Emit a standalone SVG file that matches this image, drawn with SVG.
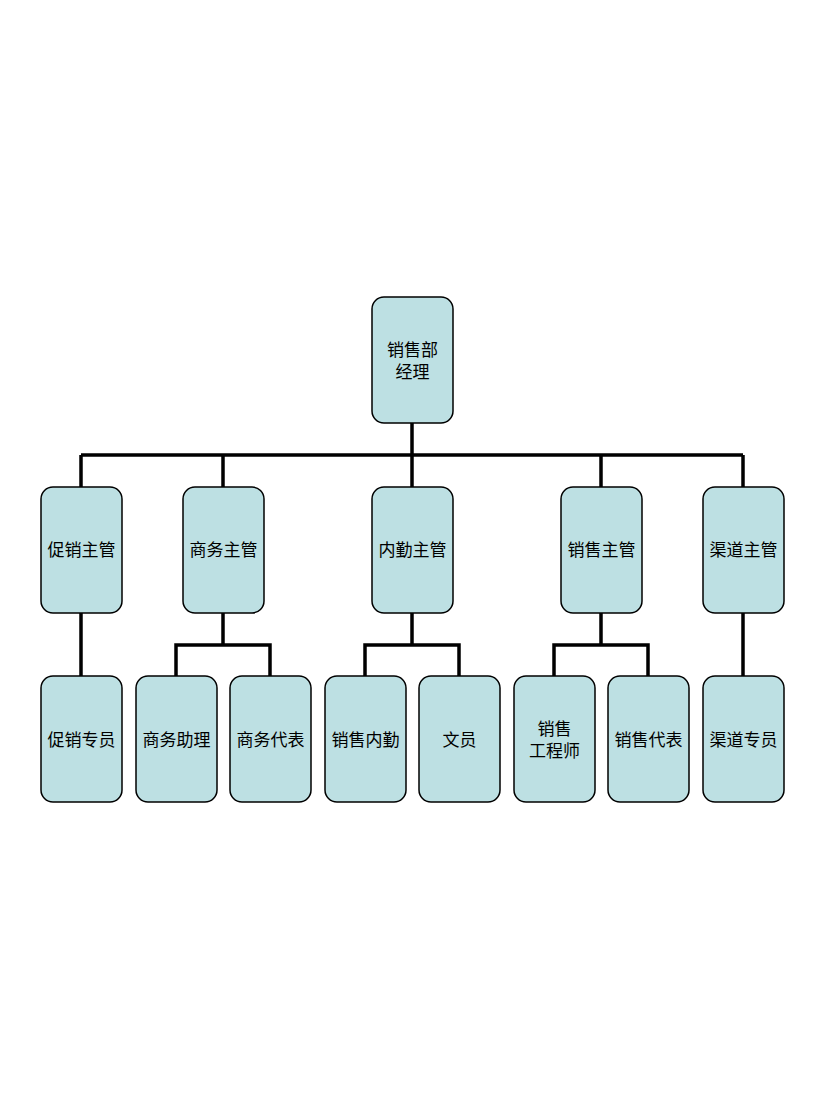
<svg xmlns="http://www.w3.org/2000/svg" width="825" height="1100" viewBox="0 0 825 1100">
<style>
.n rect{fill:#bde0e3;stroke:#000;stroke-width:1.5}
.n text{font-family:"Liberation Serif","Noto Sans CJK SC",serif;font-size:17px;text-anchor:middle;fill:#000}
.c path{fill:none;stroke:#000;stroke-width:3.5}
</style>
<rect width="825" height="1100" fill="#fff"/>
<g class="c">
<path d="M412 423V455M81 455H743M81 455V487M223 455V487M412 455V487M601 455V487M743 455V487"/>
<path d="M81 613V676M743 613V676"/>
<path d="M223 613V645M176 676V645H270V676"/>
<path d="M412 613V645M365 676V645H459V676"/>
<path d="M601 613V645M554 676V645H648V676"/>
</g>
<g id="n0" class="n"><rect x="372" y="297" width="81" height="126" rx="12"/><text x="412.5" y="356">销售部</text><text x="412.5" y="378">经理</text></g>
<g id="n1" class="n"><rect x="41" y="487" width="81" height="126" rx="12"/><text x="81.5" y="556">促销主管</text></g>
<g id="n2" class="n"><rect x="183" y="487" width="81" height="126" rx="12"/><text x="223.5" y="556">商务主管</text></g>
<g id="n3" class="n"><rect x="372" y="487" width="81" height="126" rx="12"/><text x="412.5" y="556">内勤主管</text></g>
<g id="n4" class="n"><rect x="561" y="487" width="81" height="126" rx="12"/><text x="601.5" y="556">销售主管</text></g>
<g id="n5" class="n"><rect x="703" y="487" width="81" height="126" rx="12"/><text x="743.5" y="556">渠道主管</text></g>
<g id="n6" class="n"><rect x="41" y="676" width="81" height="126" rx="12"/><text x="81.5" y="746">促销专员</text></g>
<g id="n7" class="n"><rect x="136" y="676" width="81" height="126" rx="12"/><text x="176.5" y="746">商务助理</text></g>
<g id="n8" class="n"><rect x="230" y="676" width="81" height="126" rx="12"/><text x="270.5" y="746">商务代表</text></g>
<g id="n9" class="n"><rect x="325" y="676" width="81" height="126" rx="12"/><text x="365.5" y="746">销售内勤</text></g>
<g id="n10" class="n"><rect x="419" y="676" width="81" height="126" rx="12"/><text x="459.5" y="746">文员</text></g>
<g id="n11" class="n"><rect x="514" y="676" width="81" height="126" rx="12"/><text x="554.5" y="735">销售</text><text x="554.5" y="757">工程师</text></g>
<g id="n12" class="n"><rect x="608" y="676" width="81" height="126" rx="12"/><text x="648.5" y="746">销售代表</text></g>
<g id="n13" class="n"><rect x="703" y="676" width="81" height="126" rx="12"/><text x="743.5" y="746">渠道专员</text></g>
</svg>
